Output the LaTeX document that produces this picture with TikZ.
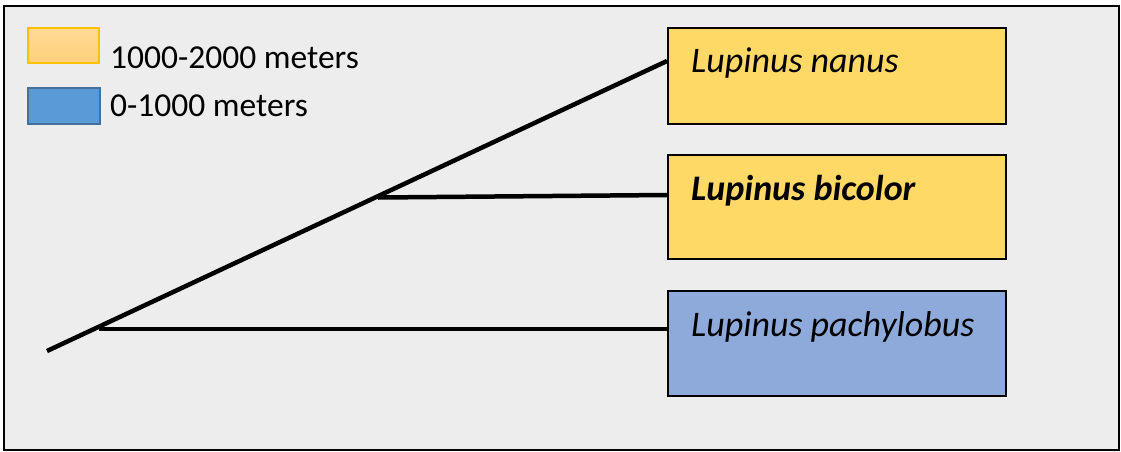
\documentclass[tikz,border=0pt]{standalone}
\usepackage{fontspec}
\setmainfont{Carlito}
\definecolor{bg}{HTML}{EDEDED}
\definecolor{gold}{HTML}{FFD966}
\definecolor{blueb}{HTML}{8EAADB}
\definecolor{legorange}{HTML}{FFC000}
\definecolor{legtop}{HTML}{FFDA95}
\definecolor{legbot}{HTML}{FFD07A}
\definecolor{legblue}{HTML}{5B9BD5}
\definecolor{legblueb}{HTML}{41719C}
\begin{document}
\begin{tikzpicture}[x=1pt,y=-1pt,
  spbox/.style={draw=black,line width=1.6pt,minimum width=338pt,minimum height=#1,inner sep=0pt,anchor=north west},
  sptext/.style={anchor=base west,inner sep=0pt,font=\fontsize{36}{43}\selectfont\itshape},
  legtext/.style={anchor=base west,inner sep=0pt,font=\fontsize{33.5}{40}\selectfont},
  branch/.style={line width=4.5pt}]
\useasboundingbox (0,0) rectangle (1121,451);
\node[draw=black,line width=1.6pt,fill=bg,minimum width=1115pt,minimum height=444pt,inner sep=0pt,anchor=north west] (frame) at (3,5) {};
% legend
\node[draw=legorange,line width=2pt,top color=legtop,bottom color=legbot,minimum width=71pt,minimum height=35pt,inner sep=0pt,anchor=north west] (leg1) at (27,27) {};
\node[legtext] (leg1t) at (110,68) {1000-2000 meters};
\node[draw=legblueb,line width=2.4pt,fill=legblue,minimum width=72pt,minimum height=36pt,inner sep=0pt,anchor=north west] (leg2) at (27,87) {};
\node[legtext] (leg2t) at (110,116) {0-1000 meters};
% species boxes
\node[spbox=96pt,fill=gold] (nanus) at (667,27) {};
\node[sptext] (nanust) at (691,72) {Lupinus nanus};
\node[spbox=104pt,fill=gold] (bicolor) at (667,154) {};
\node[sptext,font=\fontsize{36}{43}\selectfont\itshape\bfseries] (bicolort) at (691,200) {Lupinus bicolor};
\node[spbox=105pt,fill=blueb] (pachy) at (667,290) {};
\node[sptext] (pachyt) at (691,336) {Lupinus pachylobus};
% tree
\coordinate (root) at (47,351);
\coordinate (n1) at (99,326.7);
\coordinate (n2) at (378,197.5);
\draw[branch] (root) -- (nanus.west |- 0,61);
\draw[branch] (n2) -- (bicolor.west |- 0,195);
\draw[branch] (n1 |- 0,329) -- (pachy.west |- 0,329);
\end{tikzpicture}
\end{document}
